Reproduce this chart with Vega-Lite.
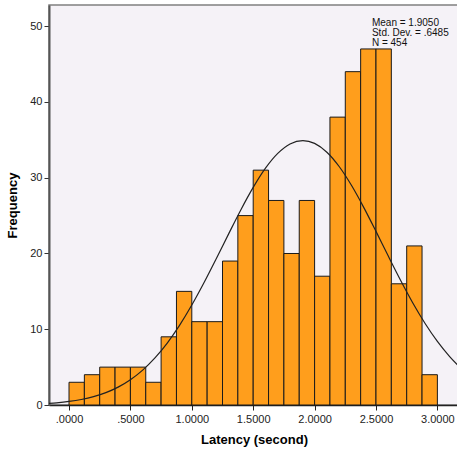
{
  "$schema": "https://vega.github.io/schema/vega-lite/v6.json",
  "width": 410,
  "height": 400,
  "autosize": {"type": "none"},
  "padding": {"left": 49, "top": 5, "right": 0, "bottom": 47},
  "background": "white",
  "config": {
    "view": {"fill": "#F5F2F7", "stroke": "#808080", "strokeWidth": 1.5},
    "font": "Liberation Sans",
    "axis": {"grid": false, "labelFont": "Liberation Sans", "titleFont": "Liberation Sans", "labelColor": "#222", "titleColor": "#000"}
  },
  "datasets": {
    "bins": [
      {"lo": 0.0, "hi": 0.125, "count": 3},
      {"lo": 0.125, "hi": 0.25, "count": 4},
      {"lo": 0.25, "hi": 0.375, "count": 5},
      {"lo": 0.375, "hi": 0.5, "count": 5},
      {"lo": 0.5, "hi": 0.625, "count": 5},
      {"lo": 0.625, "hi": 0.75, "count": 3},
      {"lo": 0.75, "hi": 0.875, "count": 9},
      {"lo": 0.875, "hi": 1.0, "count": 15},
      {"lo": 1.0, "hi": 1.125, "count": 11},
      {"lo": 1.125, "hi": 1.25, "count": 11},
      {"lo": 1.25, "hi": 1.375, "count": 19},
      {"lo": 1.375, "hi": 1.5, "count": 25},
      {"lo": 1.5, "hi": 1.625, "count": 31},
      {"lo": 1.625, "hi": 1.75, "count": 27},
      {"lo": 1.75, "hi": 1.875, "count": 20},
      {"lo": 1.875, "hi": 2.0, "count": 27},
      {"lo": 2.0, "hi": 2.125, "count": 17},
      {"lo": 2.125, "hi": 2.25, "count": 38},
      {"lo": 2.25, "hi": 2.375, "count": 44},
      {"lo": 2.375, "hi": 2.5, "count": 47},
      {"lo": 2.5, "hi": 2.625, "count": 47},
      {"lo": 2.625, "hi": 2.75, "count": 16},
      {"lo": 2.75, "hi": 2.875, "count": 21},
      {"lo": 2.875, "hi": 3.0, "count": 4}
    ],
    "curve": [
      {"x": -0.163, "y": 0.216},
      {"x": -0.1, "y": 0.293},
      {"x": 0.0, "y": 0.467},
      {"x": 0.1, "y": 0.725},
      {"x": 0.2, "y": 1.101},
      {"x": 0.3, "y": 1.632},
      {"x": 0.4, "y": 2.363},
      {"x": 0.5, "y": 3.339},
      {"x": 0.6, "y": 4.608},
      {"x": 0.7, "y": 6.211},
      {"x": 0.8, "y": 8.176},
      {"x": 0.9, "y": 10.51},
      {"x": 1.0, "y": 13.19},
      {"x": 1.1, "y": 16.16},
      {"x": 1.2, "y": 19.33},
      {"x": 1.3, "y": 22.59},
      {"x": 1.4, "y": 25.78},
      {"x": 1.5, "y": 28.72},
      {"x": 1.6, "y": 31.26},
      {"x": 1.7, "y": 33.21},
      {"x": 1.8, "y": 34.46},
      {"x": 1.905, "y": 34.91},
      {"x": 2.0, "y": 34.54},
      {"x": 2.1, "y": 33.37},
      {"x": 2.2, "y": 31.48},
      {"x": 2.3, "y": 29.0},
      {"x": 2.4, "y": 26.09},
      {"x": 2.5, "y": 22.92},
      {"x": 2.6, "y": 19.66},
      {"x": 2.7, "y": 16.47},
      {"x": 2.8, "y": 13.47},
      {"x": 2.9, "y": 10.76},
      {"x": 3.0, "y": 8.393},
      {"x": 3.1, "y": 6.392},
      {"x": 3.18, "y": 5.03}
    ],
    "stats": [
      {"label": "Mean = 1.9050\nStd. Dev. = .6485\nN = 454"}
    ]
  },
  "layer": [
    {
      "data": {"name": "bins"},
      "mark": {"type": "rect", "fill": "#FF9E1C", "stroke": "#1a1a1a", "strokeWidth": 1},
      "encoding": {
        "x": {
          "field": "lo", "type": "quantitative",
          "scale": {"domain": [-0.163, 3.176], "nice": false, "zero": false},
          "axis": {
            "title": "Latency (second)", "titleFontSize": 13, "titleFontWeight": "bold", "titlePadding": 9,
            "values": [0, 0.5, 1, 1.5, 2, 2.5, 3],
            "labelExpr": "replace(format(datum.value, '.4f'), '0.', '.')",
            "labelFontSize": 11, "domainColor": "#222", "domainWidth": 1.5, "tickColor": "#222", "tickSize": 5, "labelPadding": 3
          }
        },
        "x2": {"field": "hi"},
        "y": {
          "field": "count", "type": "quantitative",
          "scale": {"domain": [0, 52.8], "nice": false},
          "axis": {
            "title": "Frequency", "titleFontSize": 13, "titleFontWeight": "bold", "titlePadding": 10,
            "values": [0, 10, 20, 30, 40, 50],
            "labelFontSize": 11, "domainColor": "#555", "domainWidth": 2, "tickColor": "#333", "tickSize": 5, "labelPadding": 2
          }
        },
        "y2": {"datum": 0}
      }
    },
    {
      "data": {"name": "curve"},
      "mark": {"type": "line", "color": "#222", "strokeWidth": 1.2, "interpolate": "monotone", "clip": true},
      "encoding": {
        "x": {"field": "x", "type": "quantitative"},
        "y": {"field": "y", "type": "quantitative"}
      }
    },
    {
      "data": {"name": "stats"},
      "mark": {"type": "text", "align": "left", "baseline": "top", "fontSize": 10, "lineBreak": "\n", "lineHeight": 10, "color": "#111", "font": "Liberation Sans"},
      "encoding": {
        "x": {"datum": 2.467},
        "y": {"datum": 51.1},
        "text": {"field": "label", "type": "nominal"}
      }
    }
  ]
}
